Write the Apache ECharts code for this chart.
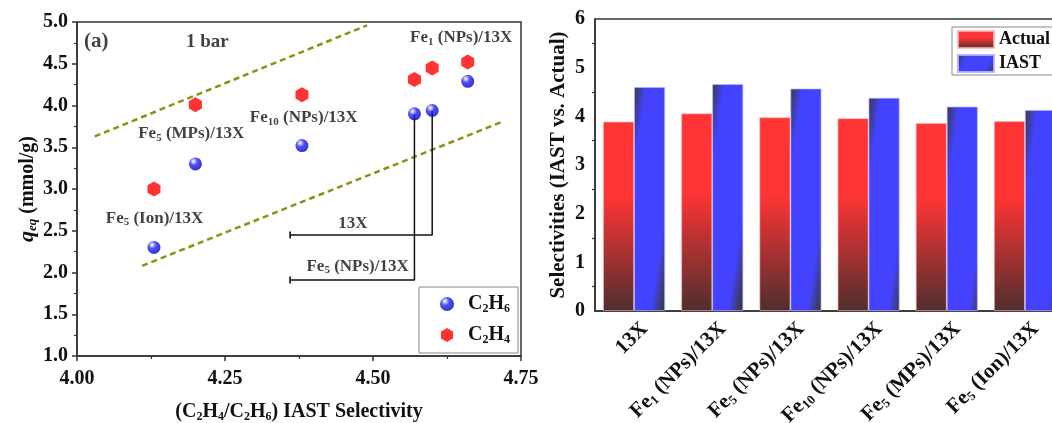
<!DOCTYPE html>
<html>
<head>
<meta charset="utf-8">
<script src="https://cdn.jsdelivr.net/npm/echarts@6/dist/echarts.min.js"></script>
<style>
  html, body { margin: 0; padding: 0; background: #fff; }
  #chart { width: 1052px; height: 423px; }
</style>
</head>
<body>
<div id="chart"></div>
<script>
// Adsorbents, in the order used by panel (b)
const categories = ['13X', 'Fe_{1} (NPs)/13X', 'Fe_{5} (NPs)/13X', 'Fe_{10} (NPs)/13X', 'Fe_{5} (MPs)/13X', 'Fe_{5} (Ion)/13X'];
// C2H4/C2H6 selectivities
const iastSelectivity   = [4.60, 4.66, 4.57, 4.38, 4.20, 4.13];
const actualSelectivity = [3.89, 4.06, 3.98, 3.96, 3.86, 3.90];
// Equilibrium uptakes at 1 bar (mmol/g)
const uptakeC2H6 = [3.94, 4.29, 3.90, 3.52, 3.30, 2.30];
const uptakeC2H4 = [4.45, 4.52, 4.31, 4.13, 4.01, 3.00];
// Guide lines bounding the trend (selectivity, uptake)
const guideUpper = [[4.03, 3.63], [4.49, 4.96]];
const guideLower = [[4.11, 2.08], [4.72, 3.81]];
// Leader lines from the 13X and Fe5 (NPs)/13X ethane points to their labels
const leaderLevels = [2.45, 1.91];
const leaderEnd = 4.36;

const FONT = 'Liberation Serif';

// "Fe_{5} (NPs)/13X" -> rich text with a subscript
function rich(str, base, sub) {
  const parts = str.split(/_\{([^}]*)\}/);
  let out = '';
  parts.forEach((p, i) => {
    if (p === '') return;
    out += '{' + (i % 2 ? sub : base) + '|' + p + '}';
  });
  return out;
}
function richStyles(size) {
  const sub = Math.round(size * 0.62);
  return {
    t: { fontFamily: FONT, fontWeight: 'bold', fontSize: size, lineHeight: size + 2, color: '#111' },
    s: { fontFamily: FONT, fontWeight: 'bold', fontSize: sub, lineHeight: Math.round(sub * 0.7), color: '#111',
         verticalAlign: 'bottom' }
  };
}

// Text annotations of panel (a), placed in data units
const notes = [
  { text: '(a)', at: [4.012, 4.76], align: 'left', size: 21 },
  { text: '1 bar', at: [4.184, 4.76], align: 'left', size: 19 },
  { text: 'Fe_{1} (NPs)/13X', at: [4.649, 4.81], align: 'center', size: 17 },
  { text: 'Fe_{5} (MPs)/13X', at: [4.193, 3.66], align: 'center', size: 17 },
  { text: 'Fe_{10} (NPs)/13X', at: [4.383, 3.85], align: 'center', size: 17 },
  { text: 'Fe_{5} (Ion)/13X', at: [4.131, 2.65], align: 'center', size: 17 },
  { text: '13X', at: [4.466, 2.59], align: 'center', size: 17 },
  { text: 'Fe_{5} (NPs)/13X', at: [4.474, 2.07], align: 'center', size: 17 }
];

const ballColor = {
  type: 'radial', x: 0.36, y: 0.3, r: 0.75,
  colorStops: [
    { offset: 0, color: '#ffffff' },
    { offset: 0.14, color: '#b8b8ff' },
    { offset: 0.4, color: '#2424ff' },
    { offset: 1, color: '#0000a0' }
  ]
};
const hexPath = 'path://M0,-1L0.866,-0.5L0.866,0.5L0,1L-0.866,0.5L-0.866,-0.5Z';

const actualFill = {
  type: 'linear', x: 0, y: 0, x2: 0, y2: 1,
  colorStops: [
    { offset: 0, color: '#ff3434' },
    { offset: 0.4, color: '#ff3434' },
    { offset: 1, color: '#4f2e2e' }
  ]
};
const iastFill = {
  type: 'linear', x: 0, y: 0, x2: 1.95, y2: 0.04,
  colorStops: [
    { offset: 0, color: '#3a3a46' },
    { offset: 0.2, color: '#4343ff' },
    { offset: 0.8, color: '#4343ff' },
    { offset: 1, color: '#3a3a46' }
  ]
};
const iastLegendFill = {
  type: 'linear', x: 0, y: 0, x2: 1, y2: 1,
  colorStops: [
    { offset: 0, color: '#3a3a46' },
    { offset: 0.25, color: '#4343ff' },
    { offset: 0.75, color: '#4343ff' },
    { offset: 1, color: '#3a3a46' }
  ]
};

const axisLine = { show: true, onZero: false, lineStyle: { color: '#333', width: 1.5 } };
const tickLabel = { fontFamily: FONT, fontWeight: 'bold', fontSize: 20, color: '#111' };

function leader(i, level) {
  const x = iastSelectivity[i], y = uptakeC2H6[i];
  return {
    type: 'line', xAxisIndex: 0, yAxisIndex: 0, silent: true, z: 2,
    showSymbol: true, animation: false,
    lineStyle: { color: '#111', width: 1.5 },
    itemStyle: { color: '#111' },
    data: [
      { value: [x, y], symbol: 'none' },
      { value: [x, level], symbol: 'none' },
      { value: [leaderEnd, level], symbol: 'rect', symbolSize: [1.6, 7] }
    ]
  };
}
function guide(points) {
  return {
    type: 'line', xAxisIndex: 0, yAxisIndex: 0, silent: true, z: 1,
    symbol: 'none', animation: false,
    lineStyle: { color: '#8f8f14', width: 2.5, type: [6, 4] },
    data: points
  };
}

const chart = echarts.init(document.getElementById('chart'));
chart.setOption({
  animation: false,
  grid: [
    { left: 77, right: 531, top: 22, bottom: 67, show: true, borderColor: '#333', borderWidth: 1.5,
      outerBoundsMode: 'none', containLabel: false },
    { left: 595, right: -12, top: 19, bottom: 112, show: true, borderColor: '#333', borderWidth: 1.5,
      outerBoundsMode: 'none', containLabel: false }
  ],
  legend: [
    {
      data: ['C2H6', 'C2H4'], orient: 'vertical', left: 419, top: 287,
      padding: [7, 8, 7, 21], itemGap: 10, itemWidth: 14, itemHeight: 14,
      borderColor: '#888', borderWidth: 1,
      formatter: n => '{t|C}{s|2}{t|H}{s|' + n.slice(3) + '}',
      textStyle: { padding: [0, 0, 0, 9], rich: richStyles(20) }
    },
    {
      data: ['Actual', { name: 'IAST', itemStyle: { color: iastLegendFill } }],
      orient: 'vertical', left: 952, top: 27,
      padding: [3, 20, 2, 5], itemGap: 5, itemWidth: 36, itemHeight: 17, icon: 'rect',
      borderColor: '#888', borderWidth: 1,
      textStyle: { fontFamily: FONT, fontWeight: 'bold', fontSize: 18, color: '#111' }
    }
  ],
  xAxis: [
    {
      type: 'value', gridIndex: 0, min: 4, max: 4.75, interval: 0.25,
      axisLine, splitLine: { show: false },
      axisTick: { length: 5, lineStyle: { width: 1.5, color: '#333' } },
      minorTick: { show: true, splitNumber: 2, length: 3, lineStyle: { width: 1.2, color: '#333' } },
      axisLabel: Object.assign({ margin: 13, formatter: v => v.toFixed(2) }, tickLabel),
      name: '{t|(C}{s|2}{t|H}{s|4}{t|/C}{s|2}{t|H}{s|6}{t|) IAST Selectivity}',
      nameLocation: 'middle', nameGap: 45,
      nameTextStyle: { rich: richStyles(20) }
    },
    {
      type: 'category', gridIndex: 1, data: categories,
      axisLine,
      axisTick: { alignWithLabel: true, length: 5, lineStyle: { width: 1.5, color: '#333' } },
      axisLabel: Object.assign({
        interval: 0, rotate: 45, margin: 4, padding: [30, 0, 0, 0],
        formatter: v => rich(v, 't', 's'),
        rich: richStyles(21)
      }, tickLabel)
    },
    {
      type: 'category', gridIndex: 1, data: categories, position: 'bottom',
      axisLine: { show: false }, axisLabel: { show: false },
      axisTick: { alignWithLabel: false, length: 3, lineStyle: { width: 1.2, color: '#333' } }
    }
  ],
  yAxis: [
    {
      type: 'value', gridIndex: 0, min: 1, max: 5, interval: 0.5,
      axisLine, splitLine: { show: false },
      axisTick: { length: 5, lineStyle: { width: 1.5, color: '#333' } },
      minorTick: { show: true, splitNumber: 2, length: 3, lineStyle: { width: 1.2, color: '#333' } },
      axisLabel: Object.assign({ margin: 9, formatter: v => v.toFixed(1) }, tickLabel),
      name: '{q|q}{e|eq}{t| (mmol/g)}', nameLocation: 'middle', nameGap: 38, nameRotate: 90,
      nameTextStyle: {
        rich: {
          q: { fontFamily: FONT, fontWeight: 'bold', fontStyle: 'italic', fontSize: 22, lineHeight: 23, color: '#111' },
          e: { fontFamily: FONT, fontWeight: 'bold', fontStyle: 'italic', fontSize: 13, lineHeight: 9, color: '#111',
               verticalAlign: 'bottom' },
          t: { fontFamily: FONT, fontWeight: 'bold', fontSize: 20, lineHeight: 23, color: '#111' }
        }
      }
    },
    {
      type: 'value', gridIndex: 1, min: 0, max: 6, interval: 1,
      axisLine, splitLine: { show: false },
      axisTick: { length: 5, lineStyle: { width: 1.5, color: '#333' } },
      minorTick: { show: true, splitNumber: 2, length: 3, lineStyle: { width: 1.2, color: '#333' } },
      axisLabel: Object.assign({ margin: 10 }, tickLabel),
      name: 'Selectivities (IAST vs. Actual)', nameLocation: 'middle', nameGap: 26, nameRotate: 90,
      nameTextStyle: { fontFamily: FONT, fontWeight: 'bold', fontSize: 21, color: '#111' }
    }
  ],
  series: [
    guide(guideUpper),
    guide(guideLower),
    leader(0, leaderLevels[0]),
    leader(2, leaderLevels[1]),
    {
      name: 'C2H6', type: 'scatter', xAxisIndex: 0, yAxisIndex: 0, z: 5,
      symbol: 'circle', symbolSize: 13,
      itemStyle: { color: ballColor },
      data: iastSelectivity.map((x, i) => [x, uptakeC2H6[i]])
    },
    {
      name: 'C2H4', type: 'scatter', xAxisIndex: 0, yAxisIndex: 0, z: 5,
      symbol: hexPath, symbolSize: [13, 15],
      itemStyle: { color: '#ff0000' },
      data: iastSelectivity.map((x, i) => [x, uptakeC2H4[i]])
    },
    {
      type: 'scatter', xAxisIndex: 0, yAxisIndex: 0, silent: true, z: 6,
      symbolSize: 0,
      data: notes.map(n => ({
        value: n.at,
        label: { align: n.align, rich: richStyles(n.size) },
        text: n.text
      })),
      label: {
        show: true, position: 'inside', verticalAlign: 'middle',
        formatter: p => rich(p.data.text, 't', 's')
      }
    },
    {
      name: 'Actual', type: 'bar', xAxisIndex: 1, yAxisIndex: 1,
      barWidth: 31, barGap: '0%',
      itemStyle: { color: actualFill, borderColor: 'rgba(255,180,180,0.8)', borderWidth: 0.8 },
      data: actualSelectivity
    },
    {
      name: 'IAST', type: 'bar', xAxisIndex: 1, yAxisIndex: 1,
      barWidth: 31, barGap: '0%',
      itemStyle: { color: iastFill, borderColor: 'rgba(180,180,255,0.9)', borderWidth: 0.8 },
      data: iastSelectivity
    }
  ]
});
</script>
</body>
</html>
